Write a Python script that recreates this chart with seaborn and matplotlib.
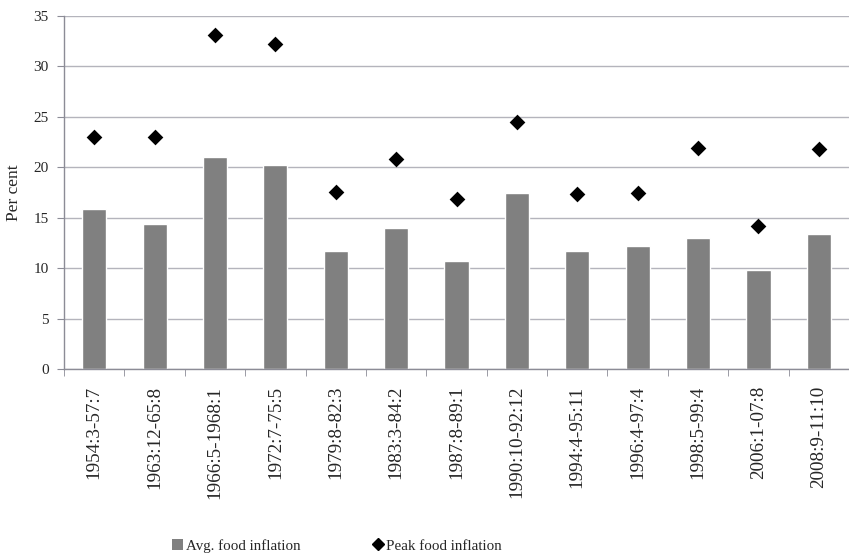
import matplotlib
matplotlib.use('Agg')
import matplotlib.pyplot as plt
import seaborn as sns
import numpy as np
from matplotlib.patches import Patch
from matplotlib.lines import Line2D

# Food inflation episodes
periods = ['1954:3-57:7', '1963:12-65:8', '1966:5-1968:1', '1972:7-75:5',
           '1979:8-82:3', '1983:3-84:2', '1987:8-89:1', '1990:10-92:12',
           '1994:4-95:11', '1996:4-97:4', '1998:5-99:4', '2006:1-07:8',
           '2008:9-11:10']
avg_inflation = [15.9, 14.4, 21.0, 20.25, 11.7, 14.0, 10.7, 17.5, 11.7, 12.2, 13.0, 9.8, 13.4]
peak_inflation = [23.0, 23.0, 33.1, 32.2, 17.6, 20.8, 16.9, 24.5, 17.4, 17.5, 21.9, 14.2, 21.8]
y_ticks = [0, 5, 10, 15, 20, 25, 30, 35]

sns.set_style('white')
plt.rcParams['font.family'] = ['Liberation Serif', 'DejaVu Serif']

fig = plt.figure(figsize=(8.49, 5.58), dpi=100)
ax = fig.add_axes([0.0754, 0.3387, 0.9246, 0.6326])

bar_color = '#808080'
grid_color = '#b4b4bc'

sns.barplot(x=periods, y=avg_inflation, color=bar_color, width=0.4,
            saturation=1, ax=ax, zorder=2)
sns.stripplot(x=periods, y=peak_inflation, color='black', marker='D',
              size=8, jitter=False, ax=ax, zorder=3)

ax.set_xlim(-0.5, len(periods) - 0.5)
ax.set_ylim(0, 35)
ax.set_yticks(y_ticks)
ax.yaxis.grid(True, color=grid_color, linewidth=1.0, zorder=0)
ax.set_axisbelow(True)

for side in ['top', 'right']:
    ax.spines[side].set_visible(False)
for side in ['left', 'bottom']:
    ax.spines[side].set_color('#8c8c96')
    ax.spines[side].set_linewidth(1.0)

ax.set_xticks(range(len(periods)))
ax.set_xticklabels(periods, rotation=90, fontsize=13.8)
ax.set_xticks(np.arange(-0.5, len(periods), 1.0), minor=True)
ax.tick_params(axis='x', which='major', length=0, pad=12)
ax.tick_params(axis='x', which='minor', length=5, color='#8c8c96', direction='out', bottom=True)
ax.tick_params(axis='y', length=5, color='#8c8c96', direction='out', left=True,
               labelsize=11, pad=6)

ax.set_xlabel('')
ax.set_ylabel('Per cent', fontsize=12.5, labelpad=8)

handles = [Patch(facecolor=bar_color, edgecolor='none', label='Avg. food inflation'),
           Line2D([], [], marker='D', color='black', linestyle='none', markersize=6,
                  label='Peak food inflation')]
fig.legend(handles=handles, loc='center', bbox_to_anchor=(0.397, 0.022), ncol=2,
           frameon=False, fontsize=10.8, handlelength=0.7, handletextpad=0.2,
           columnspacing=4.8)

fig.savefig('out.png', dpi=100)
plt.close(fig)
